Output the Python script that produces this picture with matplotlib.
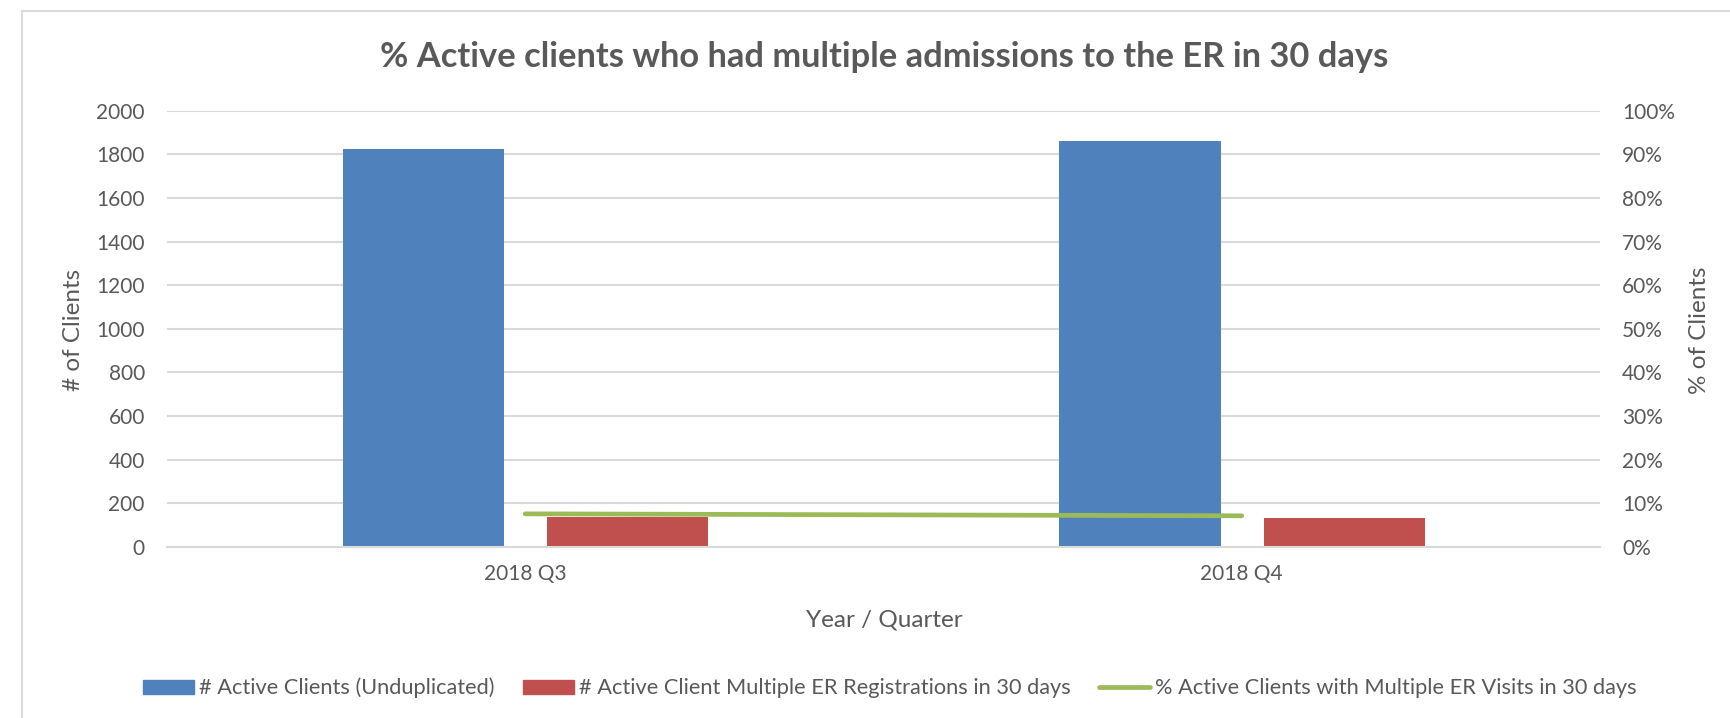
import matplotlib
matplotlib.use('Agg')
import matplotlib.pyplot as plt
from matplotlib.patches import Rectangle, Patch
from matplotlib.lines import Line2D
from matplotlib.ticker import PercentFormatter
import numpy as np

plt.rcParams['font.family'] = ['Lato', 'DejaVu Sans']

# data
quarters = ['2018 Q3', '2018 Q4']
active_clients = [1824, 1861]
multi_er_regs = [139, 133]
pct_multi_er = [0.076, 0.0715]

label_blue = '# Active Clients (Unduplicated)'
label_red = '# Active Client Multiple ER Registrations in 30 days'
label_green = '% Active Clients with Multiple ER Visits in 30 days'

BLUE = '#4F81BD'
RED = '#C0504D'
GREEN = '#9BBB59'
TXT = '#595959'
GRID = '#D9D9D9'

W, H = 1731, 718
fig = plt.figure(figsize=(W / 100, H / 100), dpi=100)

# chart frame (cut off at right and bottom in the original)
fig.patches.append(Rectangle((22 / W, -0.1), 1.2, 1.1 - 11.5 / H, transform=fig.transFigure,
                             fill=False, edgecolor=GRID, linewidth=1.5))

ax = fig.add_axes([167 / W, 171 / H, (1600 - 167) / W, (547 - 110.7) / H])
x = np.arange(len(quarters))
bw = 0.225
ax.bar(x - 0.142, active_clients, bw, color=BLUE, zorder=2)
ax.bar(x + 0.143, multi_er_regs, bw, color=RED, zorder=2)
ax.set_xlim(-0.5, 1.5)
ax.set_ylim(0, 2000)
ax.set_yticks(range(0, 2001, 200))
ax.set_xticks(x)
ax.set_xticklabels(quarters)
ax.grid(axis='y', color=GRID, linewidth=1.5, zorder=0)
ax.set_axisbelow(True)
for s in ['top', 'right', 'left']:
    ax.spines[s].set_visible(False)
ax.spines['bottom'].set_color(GRID)
ax.spines['bottom'].set_linewidth(1.5)
ax.tick_params(length=0, labelsize=15, colors=TXT, pad=16)
ax.tick_params(axis='x', pad=12)

ax2 = ax.twinx()
ax2.plot(x, pct_multi_er, color=GREEN, linewidth=3.4, solid_capstyle='round', zorder=3)
ax2.set_ylim(0, 1)
ax2.set_yticks(np.arange(0, 1.01, 0.1))
ax2.yaxis.set_major_formatter(PercentFormatter(1.0, decimals=0))
for s in ax2.spines.values():
    s.set_visible(False)
ax2.tick_params(length=0, labelsize=15, colors=TXT, pad=16)

fig.text(884 / W, 1 - 57 / H, '% Active clients who had multiple admissions to the ER in 30 days',
         ha='center', va='center', fontsize=24.8, fontweight='bold', color=TXT)
fig.text(73 / W, 1 - 330 / H, '# of Clients', rotation=90, ha='center', va='center',
         fontsize=17.5, color=TXT)
fig.text(1700 / W, 1 - 330 / H, '% of Clients', rotation=90, ha='center', va='center',
         fontsize=17.5, color=TXT)
fig.text(884 / W, 1 - 620 / H, 'Year / Quarter', ha='center', va='center',
         fontsize=17.5, color=TXT)

handles = [Patch(color=BLUE, label=label_blue),
           Patch(color=RED, label=label_red),
           Line2D([0], [0], color=GREEN, linewidth=3.4, solid_capstyle='round', label=label_green)]
fig.legend(handles=handles, loc='center', bbox_to_anchor=(890 / W, 1 - 688 / H), ncol=3,
           frameon=False, fontsize=15.7, labelcolor=TXT, handlelength=2.35, handleheight=0.6,
           handletextpad=0.22, columnspacing=1.3)

fig.savefig('out.png', dpi=100)
